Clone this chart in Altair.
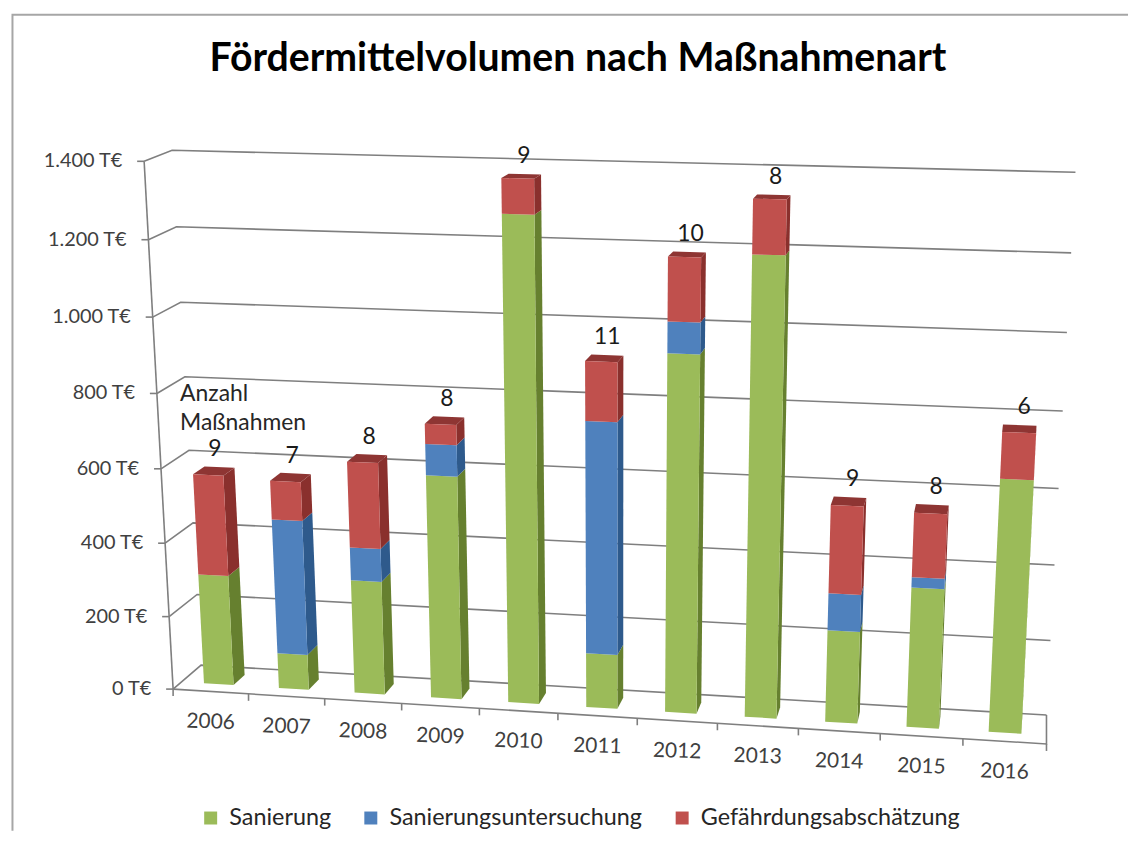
import altair as alt
import pandas as pd

years = list(range(2006, 2017))
sanierung = [301, 96, 307, 598, 1279, 145, 939, 1194, 242, 365, 654]
untersuchung = [0, 365, 89, 83, 0, 613, 81, 0, 97, 27, 0]
gefaehrdung = [272, 104, 229, 53, 90, 154, 163, 138, 229, 166, 118]
anzahl = [9, 7, 8, 8, 9, 11, 10, 8, 9, 8, 6]
value_ticks = [0, 200, 400, 600, 800, 1000, 1200, 1400]
value_labels = ["0 T€", "200 T€", "400 T€", "600 T€", "800 T€", "1.000 T€", "1.200 T€", "1.400 T€"]
series = ["Sanierung", "Sanierungsuntersuchung", "Gefährdungsabschätzung"]
colors = ["#9BBB59", "#4F81BD", "#C0504D"]
side_colors = ["#66802F", "#2E5A8C", "#8A302D"]
top_color = "#8E3533"
FONT = "Lato"

# perspective box: corner positions of the 3D chart frame
corners = {(0, 0, 0): (173, 688), (1, 0, 0): (1047, 743), (0, 1, 0): (144, 159), (1, 1, 0): (1076, 178),
           (0, 0, 1): (201, 664), (1, 0, 1): (1047, 714), (0, 1, 1): (172, 148), (1, 1, 1): (1076, 170)}
RU, RV = 1.058, 1.047
Z_FRONT, Z_BACK = 0.30, 0.72
HALF = 0.018


def warp(a, r):
    return a / (r - (r - 1) * a)


def to_x(px):
    return 2005.5 + (px - 173) / 79.4


def to_y(py):
    return (688 - py) / 0.378


def project(t, v, z):
    u, w = warp(t, RU), warp(v / 1400, RV)
    px = py = 0.0
    for (a, b, c), (cx, cy) in corners.items():
        k = (u if a else 1 - u) * (w if b else 1 - w) * (z if c else 1 - z)
        px += k * cx
        py += k * cy
    # express in chart units: years horizontally, T€ vertically
    return to_x(px), to_y(py)


def tc(i):
    return (i + 0.5) / 11


front, side, top, lines = [], [], [], []


def poly(store, pid, pts, **extra):
    for o, (x, y) in enumerate(pts):
        store.append({"id": pid, "o": o, "x": x, "y": y, **extra})


for i, yr in enumerate(years):
    base = 0
    t0, t1 = tc(i) - HALF, tc(i) + HALF
    segs = [sanierung[i], untersuchung[i], gefaehrdung[i]]
    for s, val in enumerate(segs):
        if val <= 0:
            continue
        a, b = base, base + val
        poly(front, f"{yr}-{s}", [project(t0, a, Z_FRONT), project(t1, a, Z_FRONT),
                                  project(t1, b, Z_FRONT), project(t0, b, Z_FRONT)], series=series[s])
        poly(side, f"{yr}-{s}", [project(t1, a, Z_FRONT), project(t1, a, Z_BACK),
                                 project(t1, b, Z_BACK), project(t1, b, Z_FRONT)], col=s)
        base = b
    poly(top, f"{yr}", [project(t0, base, Z_FRONT), project(t1, base, Z_FRONT),
                        project(t1, base, Z_BACK), project(t0, base, Z_BACK)])

for v in value_ticks:
    poly(lines, f"g{v}", [project(0, v, 0), project(0, v, 1), project(1, v, 1)])
    x, y = project(0, v, 0)
    poly(lines, f"vt{v}", [(x, y), (x - 7 / 79.4, y)])
poly(lines, "wall", [project(0, 0, 0), project(0, 1400, 0)])
poly(lines, "floor", [project(0, 0, 0), project(1, 0, 0), project(1, 0, 1)])
for i in range(12):
    x, y = project(i / 11, 0, 0)
    poly(lines, f"xt{i}", [(x, y), (x, y - 7 / 0.378)])

W, H = 1122, 824
X0, X1 = 11.75, 1128.6
Y0, Y1 = 8.55, 830.05
frame = []
poly(frame, "frame", [(to_x(X0 + 0.5), to_y(Y1)), (to_x(X0 + 0.5), to_y(Y0 + 3.5)), (to_x(X1), to_y(Y0 + 3.5))])

xs = alt.Scale(domain=[to_x(X0), to_x(X1)], nice=False, zero=False)
ys = alt.Scale(domain=[to_y(Y1), to_y(Y0)], nice=False, zero=False)
X = alt.X("x:Q", scale=xs, axis=None)
Y = alt.Y("y:Q", scale=ys, axis=None)


def linelayer(rows, color, width):
    return alt.Chart(pd.DataFrame(rows)).mark_line(color=color, strokeWidth=width).encode(
        x=X, y=Y, detail="id:N", order="o:Q")


def fill_layer(rows, color):
    return alt.Chart(pd.DataFrame(rows)).mark_line(filled=True, color=color).encode(
        x=X, y=Y, detail="id:N", order="o:Q")


layers = [linelayer(frame, "#A6A6A6", 2), linelayer(lines, "#7F7F7F", 1.6)]
sdf = pd.DataFrame(side)
for s in range(3):
    layers.append(fill_layer(sdf[sdf.col == s].to_dict("records"), side_colors[s]))
layers.append(fill_layer(top, top_color))
layers.append(alt.Chart(pd.DataFrame(front)).mark_line(filled=True).encode(
    x=X, y=Y, detail="id:N", order="o:Q",
    color=alt.Color("series:N", scale=alt.Scale(domain=series, range=colors),
                    legend=alt.Legend(title=None, orient="none", legendX=188, legendY=799,
                                      direction="horizontal", symbolType="square", symbolSize=170,
                                      symbolStrokeWidth=0, labelFont=FONT, labelFontSize=23.5,
                                      labelColor="#262626", labelLimit=400, labelOffset=7,
                                      columnPadding=28, columns=3))))

ticks = pd.DataFrame([{"x": project(0, v, 0)[0], "y": project(0, v, 0)[1], "t": l}
                      for v, l in zip(value_ticks, value_labels)])
layers.append(alt.Chart(ticks).mark_text(font=FONT, fontSize=20, align="right", baseline="middle",
                                         dx=-22, color="#404040").encode(x=X, y=Y, text="t:N"))
xlab = pd.DataFrame([{"x": project(tc(i), 0, 0)[0], "y": project(tc(i), 0, 0)[1], "t": str(yr)}
                     for i, yr in enumerate(years)])
layers.append(alt.Chart(xlab).mark_text(font=FONT, fontSize=21, align="center", baseline="middle",
                                        dy=31, dx=1, angle=2, color="#404040").encode(x=X, y=Y, text="t:N"))
counts = []
for i, n in enumerate(anzahl):
    total = sanierung[i] + untersuchung[i] + gefaehrdung[i]
    x, y = project(tc(i), total, Z_BACK)
    counts.append({"x": x + (-5 + 10 * tc(i)) / 79.4, "y": y, "t": str(n)})
layers.append(alt.Chart(pd.DataFrame(counts)).mark_text(font=FONT, fontSize=23, align="center", baseline="middle",
                                                         dy=-18, color="#1A1A1A").encode(x=X, y=Y, text="t:N"))
note = pd.DataFrame({"x": [to_x(180)] * 2, "y": [to_y(392), to_y(421)], "t": ["Anzahl", "Maßnahmen"]})
layers.append(alt.Chart(note).mark_text(font=FONT, fontSize=23, align="left", baseline="middle",
                                        color="#262626").encode(x=X, y=Y, text="t:N"))

chart = alt.layer(*layers).properties(
    width=W, height=H, padding=0, background="white",
    title=alt.TitleParams("Fördermittelvolumen nach Maßnahmenart", font=FONT, fontSize=39.4, fontWeight="bold",
                          color="#000000", anchor="middle", dx=8, dy=73),
).configure_view(stroke=None)
chart.save("out.html", embed_options={"renderer": "svg", "actions": False})
